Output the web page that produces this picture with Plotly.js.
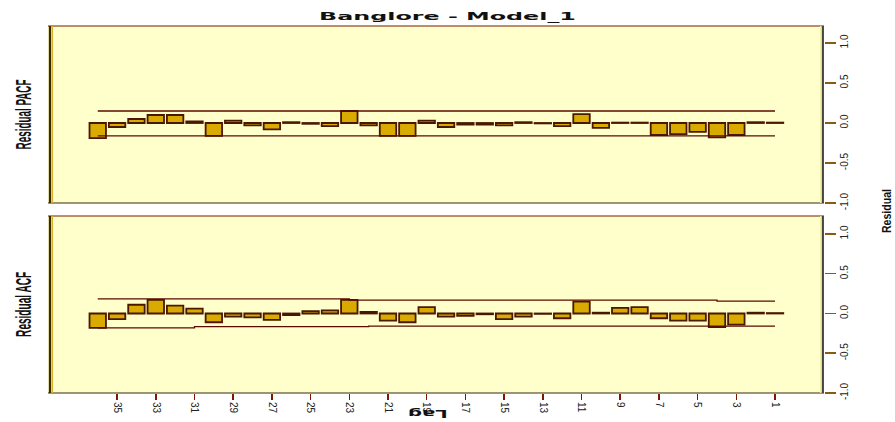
<!DOCTYPE html>
<html>
<head>
<meta charset="utf-8">
<script src="https://cdn.plot.ly/plotly-3.0.1.min.js"></script>
<style>
html,body{margin:0;padding:0;background:#fff;}
#chart{width:895px;height:422px;}
</style>
</head>
<body>
<div id="chart"></div>
<script>
// Lags, plotted on a reversed axis (36 on the left, 1 on the right)
const lags = [36,35,34,33,32,31,30,29,28,27,26,25,24,23,22,21,20,19,18,17,16,15,14,13,12,11,10,9,8,7,6,5,4,3,2,1];
// Residual PACF values (same order as lags)
const pacfValues = [-0.19,-0.05,0.05,0.10,0.10,0.02,-0.16,0.03,-0.03,-0.08,0.01,-0.01,-0.04,0.15,-0.03,-0.16,-0.16,0.03,-0.05,-0.02,-0.02,-0.03,0.01,-0.005,-0.04,0.11,-0.06,0.005,0.005,-0.15,-0.14,-0.11,-0.18,-0.15,0.01,0.005];
// Residual ACF values (same order as lags)
const acfValues = [-0.18,-0.07,0.11,0.17,0.10,0.06,-0.11,-0.04,-0.05,-0.08,-0.02,0.03,0.04,0.17,0.02,-0.09,-0.11,0.08,-0.04,-0.03,-0.01,-0.07,-0.04,-0.005,-0.06,0.15,0.01,0.07,0.08,-0.06,-0.09,-0.09,-0.17,-0.14,0.01,0.005];
// Confidence bounds
const pacfUpper = [0.15,0.15,0.15,0.15,0.15,0.15,0.15,0.15,0.15,0.15,0.15,0.15,0.15,0.15,0.15,0.15,0.15,0.15,0.15,0.15,0.15,0.15,0.15,0.15,0.15,0.15,0.15,0.15,0.15,0.15,0.15,0.15,0.15,0.15,0.15,0.15];
const pacfLower = [-0.16,-0.16,-0.16,-0.16,-0.16,-0.16,-0.16,-0.16,-0.16,-0.16,-0.16,-0.16,-0.16,-0.16,-0.16,-0.16,-0.16,-0.16,-0.16,-0.16,-0.16,-0.16,-0.16,-0.16,-0.16,-0.16,-0.16,-0.16,-0.16,-0.16,-0.16,-0.16,-0.16,-0.16,-0.16,-0.16];
const acfUpper = [0.184,0.184,0.184,0.184,0.184,0.184,0.184,0.184,0.184,0.184,0.184,0.184,0.184,0.167,0.167,0.167,0.167,0.167,0.167,0.167,0.167,0.167,0.167,0.167,0.167,0.167,0.167,0.167,0.167,0.167,0.167,0.167,0.155,0.155,0.155,0.155];
const acfLower = [-0.18,-0.18,-0.18,-0.18,-0.18,-0.165,-0.165,-0.165,-0.165,-0.165,-0.165,-0.165,-0.165,-0.165,-0.16,-0.16,-0.16,-0.16,-0.16,-0.16,-0.16,-0.16,-0.16,-0.16,-0.16,-0.16,-0.16,-0.16,-0.16,-0.16,-0.16,-0.16,-0.16,-0.16,-0.16,-0.16];
// Axis ticks
const xTickVals = [35,33,31,29,27,25,23,21,19,17,15,13,11,9,7,5,3,1];
const yTickVals = [-1,-0.5,0,0.5,1];
const yTickText = ['-1.0','-0.5','0.0','0.5','1.0'];

const barFill = '#D9AA00';
const barLine = '#4a1800';
const boundColor = '#5a0a00';

function bars(y, ya){
  return {type:'bar', x:lags, y:y, xaxis:'x', yaxis:ya, width:0.85,
    marker:{color:barFill, line:{color:barLine, width:1.8}}, hoverinfo:'x+y', showlegend:false};
}
function bound(y, ya){
  return {type:'scatter', mode:'lines', x:lags, y:y, xaxis:'x', yaxis:ya,
    line:{color:boundColor, width:1.3, shape:'hv'}, hoverinfo:'skip', showlegend:false};
}

const data = [
  bars(pacfValues,'y'), bound(pacfUpper,'y'), bound(pacfLower,'y'),
  bars(acfValues,'y2'), bound(acfUpper,'y2'), bound(acfLower,'y2')
];

const yCommon = {
  side:'right', anchor:'x', tickmode:'array', tickvals:yTickVals, ticktext:yTickText,
  tickangle:-90, ticks:'outside', ticklen:11, tickwidth:1.5, tickcolor:'#8a5a10',
  showgrid:false, zeroline:false, showline:false,
  tickfont:{family:'Liberation Sans, Arial, sans-serif', size:10, color:'#222'}
};

function border(yref, x0,x1,y0,y1,color,w){
  return {type:'line', xref:'x domain', yref:yref, x0:x0,x1:x1,y0:y0,y1:y1, line:{color:color,width:w}, layer:'above'};
}

const shapes = [];
['y domain','y2 domain'].forEach(function(r){
  shapes.push(border(r,0,1,1,1,'#7a1a00',1.2));
  shapes.push(border(r,0,1,0,0,'#3a2a10',1.2));
  shapes.push(border(r,0.0025,0.0025,0,1,'#3a2a00',2.2));
  shapes.push(border(r,0.0055,0.0055,0,1,'#d8b030',1.6));
  shapes.push(border(r,0.9985,0.9985,0,1,'#444444',2.2));
  shapes.push(border(r,0.9958,0.9958,0,1,'#f4f0a0',1.4));
});

const layout = {
  width:895, height:422,
  margin:{l:48, r:71, t:26, b:29, pad:0},
  paper_bgcolor:'#ffffff',
  plot_bgcolor:'#FFFFCC',
  bargap:0.15,
  title:{text:'<b>Banglore - Model_1</b>', x:0.5, xanchor:'center', y:1-16/422, yref:'container', yanchor:'middle',
    font:{family:'DejaVu Sans, Arial, sans-serif', size:11, color:'#111'}},
  xaxis:{anchor:'y2', range:[38.57,-1.53], tickmode:'array', tickvals:xTickVals,
    tickangle:90, ticks:'outside', ticklen:6, tickwidth:1.5, tickcolor:'#7a1a00',
    showgrid:false, zeroline:false, showline:false,
    tickfont:{family:'Liberation Sans, Arial, sans-serif', size:10, color:'#222'}},
  yaxis:Object.assign({domain:[0.5177,1], range:[-1,1.2125]}, yCommon),
  yaxis2:Object.assign({domain:[0,0.4823], range:[-1,1.226]}, yCommon),
  shapes:shapes,
  annotations:[
    {text:'<b>Residual PACF</b>', xref:'paper', yref:'paper', x:-24/776, y:(422-29-114.5)/367, xanchor:'center', yanchor:'middle', textangle:-90, showarrow:false,
      font:{family:'Liberation Sans, Arial, sans-serif', size:22, color:'#111'}},
    {text:'<b>Residual ACF</b>', xref:'paper', yref:'paper', x:-24/776, y:(422-29-304.5)/367, xanchor:'center', yanchor:'middle', textangle:-90, showarrow:false,
      font:{family:'Liberation Sans, Arial, sans-serif', size:22, color:'#111'}},
    {text:'<b>Residual</b>', xref:'paper', yref:'paper', x:(887-48)/776, y:(422-29-211)/367, xanchor:'center', yanchor:'middle', textangle:-90, showarrow:false,
      font:{family:'Liberation Sans, Arial, sans-serif', size:12, color:'#111'}},
    {text:'<b>Lag</b>', xref:'paper', yref:'paper', x:(428-48)/776, y:(422-29-414)/367, xanchor:'center', yanchor:'middle', textangle:180, showarrow:false,
      font:{family:'DejaVu Sans, Arial, sans-serif', size:11, color:'#111'}}
  ]
};

function stretch(el, targetLen){
  if(!el) return;
  const bb = el.getBBox();
  if(!bb.width) return;
  const sx = targetLen / bb.width;
  const cx = bb.x + bb.width/2, cy = bb.y + bb.height/2;
  el.setAttribute('transform', 'translate('+cx+','+cy+') scale('+sx+',1) translate('+(-cx)+','+(-cy)+')');
}

Plotly.newPlot('chart', data, layout, {displayModeBar:false, staticPlot:true}).then(function(gd){
  stretch(gd.querySelector('.gtitle'), 257);
  const ann = gd.querySelectorAll('.annotation-text');
  stretch(ann[0], 70);
  stretch(ann[1], 65);
  stretch(ann[2], 44);
  stretch(ann[3], 40);
});
</script>
</body>
</html>
